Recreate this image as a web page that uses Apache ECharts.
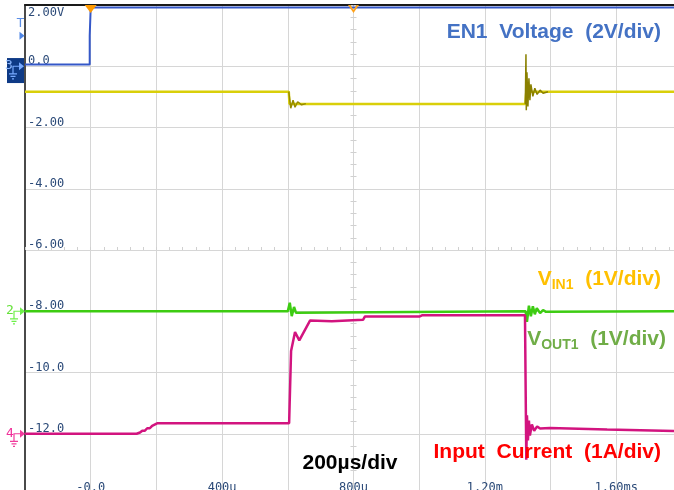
<!DOCTYPE html>
<html><head><meta charset="utf-8">
<script src="https://cdn.jsdelivr.net/npm/echarts@6/dist/echarts.min.js"></script>
<style>html,body{margin:0;padding:0;background:#fff;overflow:hidden}#c{width:674px;height:490px}</style>
</head><body><div id="c"></div>
<script>
// ---- tick labels ----
const xTickValues = [0, 400, 800, 1200, 1600];
const xTickLabels = ['-0.0', '400u', '800u', '1.20m', '1.60ms'];
const yTickValues = [2, 0, -2, -4, -6, -8, -10, -12];
const yTickLabels = ['2.00V', '0.0', '-2.00', '-4.00', '-6.00', '-8.00', '-10.0', '-12.0'];

// ---- channel reference levels (div units of left scale) ----
const en1Level = 0;
const vout1Level = -8;
const iinLevel = -12;
const triggerLevel = 1.0;
const triggerTime = 0;
const centerTime = 800;

// ---- EN1 voltage (time in µs, value in screen volts) ----
const en1T = [-200, -3, -3, 0, 0, 1800];
const en1V = [0.06, 0.06, 1.0, 1.0, 1.92, 1.92];

// ---- VIN1 ----
const vinT = [-200, 603, 605, 1323, 1326, 1800];
const vinV = [-0.83, -0.83, -1.23, -1.23, -0.83, -0.83];
const vinDropRingT = [603, 609, 616, 622, 630, 642, 655];
const vinDropRingV = [-0.83, -1.37, -1.11, -1.34, -1.16, -1.26, -1.22];
const vinSpikeT = [1323, 1325, 1326, 1328, 1331, 1334, 1337, 1340, 1346, 1352, 1359, 1368, 1377, 1392];
const vinSpikeV = [-1.23, 0.39, -1.44, -0.2, -1.31, -0.39, -1.11, -0.59, -0.98, -0.72, -0.92, -0.78, -0.88, -0.83];

// ---- VOUT1 ----
const voutT = [-200, 600, 606, 612, 619, 625, 631, 1324, 1328, 1334, 1340, 1346, 1352, 1358, 1368, 1377, 1386, 1800];
const voutV = [-8.0, -8.0, -7.72, -8.16, -7.86, -8.05, -8.0, -8.0, -8.35, -7.82, -8.16, -7.84, -8.1, -7.9, -8.06, -7.96, -8.02, -8.0];

// ---- Input current ----
const iinT = [-200, 140, 145, 150, 157, 165, 172, 180, 187, 193, 202, 604, 610, 622, 635, 668, 734, 740, 829, 835, 1002, 1010, 1322, 1326, 1328, 1331, 1334, 1337, 1343, 1350, 1359, 1368, 1398, 1400, 1572, 1575, 1800];
const iinV = [-12.0, -12.0, -11.96, -11.96, -11.9, -11.9, -11.82, -11.82, -11.74, -11.7, -11.66, -11.66, -9.3, -8.68, -8.95, -8.3, -8.33, -8.28, -8.28, -8.17, -8.17, -8.13, -8.13, -12.85, -11.4, -12.22, -11.57, -12.06, -11.7, -11.9, -11.76, -11.83, -11.81, -11.86, -11.86, -11.92, -11.92];

const pairs = (t, v) => t.map((x, i) => [x, v[i]]);

const iconPath = 'path://M12,1 L17,5 L12,9 Z M6,4.4 L12,4.4 L12,5.6 L6,5.6 Z M5.4,4.4 L6.6,4.4 L6.6,12 L5.4,12 Z M2,12 L10,12 L10,13.2 L2,13.2 Z M3.5,14.5 L8.5,14.5 L8.5,15.7 L3.5,15.7 Z M5,17 L7,17 L7,18.2 L5,18.2 Z';
const chDigit = (txt, color) => ({show: true, formatter: txt, position: [-4, -3], color: color, fontSize: 13, fontFamily: 'DejaVu Sans Mono', align: 'left', verticalAlign: 'top'});

const chart = echarts.init(document.getElementById('c'), null, {renderer: 'canvas'});
const gridColor = '#d6d6d6';
const tickColor = '#d0d0d0';
const monoFont = 'DejaVu Sans Mono';

const option = {
  animation: false,
  backgroundColor: '#ffffff',
  grid: {left: 25, top: 5, width: 657, height: 490, containLabel: false, outerBoundsMode: 'none'},
  xAxis: [
    {type: 'value', min: -200, max: 1800, interval: 200, position: 'bottom',
     axisLine: {show: false, onZero: false}, axisTick: {show: false},
     splitLine: {show: true, lineStyle: {color: gridColor, width: 1}},
     axisLabel: {inside: true, margin: 1, color: '#2b4a78', fontFamily: monoFont, fontSize: 12,
       showMinLabel: true, showMaxLabel: true, hideOverlap: false,
       formatter: v => { const i = xTickValues.indexOf(Math.round(v)); return i >= 0 ? xTickLabels[i] : ''; }}},
    {type: 'value', min: -200, max: 1800, interval: 200, position: 'top',
     axisLine: {show: true, onZero: false, lineStyle: {color: '#1a1a1a', width: 2}}, axisTick: {show: false},
     axisLabel: {show: false}, splitLine: {show: false}},
    {type: 'value', min: -200, max: 1800, interval: 40, position: 'top', offset: -245,
     axisLine: {show: false, onZero: false}, axisTick: {show: true, inside: false, length: 3, lineStyle: {color: tickColor}},
     axisLabel: {show: false}, splitLine: {show: false}},
    {type: 'value', min: -200, max: 1800, interval: 40, position: 'bottom', offset: -245,
     axisLine: {show: false, onZero: false}, axisTick: {show: true, inside: true, length: 3, lineStyle: {color: tickColor}},
     axisLabel: {show: false}, splitLine: {show: false}}
  ],
  yAxis: [
    {type: 'value', min: -14, max: 2, interval: 2, position: 'left',
     axisLine: {show: true, onZero: false, lineStyle: {color: '#4a4a4a', width: 2}}, axisTick: {show: false},
     splitLine: {show: true, lineStyle: {color: gridColor, width: 1}},
     axisLabel: {inside: true, margin: 3, color: '#2b4a78', fontFamily: monoFont, fontSize: 12,
       showMinLabel: true, showMaxLabel: true, hideOverlap: false,
       formatter: v => { const i = yTickValues.indexOf(Math.round(v)); if (i < 0) return ''; return (v === 2 ? '{t|' : '{b|') + yTickLabels[i] + '}'; },
       rich: {t: {padding: [16, 0, 0, 0], color: '#2b4a78', fontFamily: monoFont, fontSize: 12},
              b: {padding: [0, 0, 10, 0], color: '#2b4a78', fontFamily: monoFont, fontSize: 12}}}},
    {type: 'value', min: -14, max: 2, interval: 0.4, position: 'right', offset: -328.5,
     axisLine: {show: false, onZero: false}, axisTick: {show: true, inside: false, length: 3, lineStyle: {color: tickColor}},
     axisLabel: {show: false}, splitLine: {show: false}},
    {type: 'value', min: -14, max: 2, interval: 0.4, position: 'right', offset: -328.5,
     axisLine: {show: false, onZero: false}, axisTick: {show: true, inside: true, length: 3, lineStyle: {color: tickColor}},
     axisLabel: {show: false}, splitLine: {show: false}}
  ],
  series: [
    {name: 'EN1', type: 'line', data: pairs(en1T, en1V), showSymbol: false, silent: true,
     lineStyle: {color: '#3558c8', width: 2}, itemStyle: {color: '#3558c8'},
     markPoint: {silent: true, data: [
       {coord: [triggerTime, 2], symbol: 'path://M0,0 L12,0 L6,8 Z', symbolSize: [12, 8], symbolOffset: [0, 4], itemStyle: {color: '#ff9a00'}, label: {show: false}},
       {coord: [centerTime, 2], symbol: 'path://M0,0 L2.5,0 L5.5,5 L8.5,0 L11,0 L5.5,8 Z', symbolSize: [11, 8], symbolOffset: [0, 4], itemStyle: {color: '#ffa21a'}, label: {show: false}},
       {coord: [-200, triggerLevel], symbol: 'path://M0,0 L5,4 L0,8 Z', symbolSize: [5, 8], symbolOffset: [-3, 0], itemStyle: {color: '#4f86e6'},
        label: {show: true, formatter: 'T', position: [-3, -15], color: '#5b8ee6', fontSize: 13, fontFamily: monoFont, align: 'left', verticalAlign: 'top'}},
       {coord: [-200, en1Level], symbol: 'rect', symbolSize: [17, 25], symbolOffset: [-9.5, 4.3], itemStyle: {color: '#0e3a86'}, label: {show: false}},
       {coord: [-200, en1Level], symbol: iconPath, symbolSize: [15, 17.2], symbolOffset: [-8.5, 4.6], itemStyle: {color: '#78aaff'}, label: chDigit('3', '#8cb8ff')}
     ]}},
    {name: 'VOUT1', type: 'line', data: pairs(voutT, voutV), showSymbol: false, silent: true,
     lineStyle: {color: '#3dcc12', width: 2.5}, itemStyle: {color: '#3dcc12'},
     markPoint: {silent: true, data: [
       {coord: [-200, vout1Level], symbol: iconPath, symbolSize: [15, 17.2], symbolOffset: [-7.5, 4.6], itemStyle: {color: '#6ef04a'}, label: chDigit('2', '#66e23a')}
     ]}},
    {name: 'VIN1', type: 'line', data: pairs(vinT, vinV), showSymbol: false, silent: true,
     lineStyle: {color: '#d9cf0a', width: 2.5}, itemStyle: {color: '#d9cf0a'}},
    {name: 'VIN1 ring a', type: 'line', data: pairs(vinDropRingT, vinDropRingV), showSymbol: false, silent: true,
     lineStyle: {color: '#968b00', width: 1.5}, itemStyle: {color: '#968b00'}},
    {name: 'VIN1 ring b', type: 'line', data: pairs(vinSpikeT, vinSpikeV), showSymbol: false, silent: true,
     lineStyle: {color: '#8a8000', width: 1.5}, itemStyle: {color: '#8a8000'}},
    {name: 'Input Current', type: 'line', data: pairs(iinT, iinV), showSymbol: false, silent: true,
     lineStyle: {color: '#d2147f', width: 2.5}, itemStyle: {color: '#d2147f'},
     markPoint: {silent: true, data: [
       {coord: [-200, iinLevel], symbol: iconPath, symbolSize: [15, 17.2], symbolOffset: [-7.5, 4.6], itemStyle: {color: '#f03c9c'}, label: chDigit('4', '#f0309a')}
     ]}}
  ],
  graphic: [
    {type: 'text', x: 661, y: 32, z: 100, style: {text: 'EN1  Voltage  (2V/div)', align: 'right', verticalAlign: 'middle', fill: '#4472c4', font: 'bold 21px "Liberation Sans", Arial, sans-serif'}},
    {type: 'text', x: 661, y: 279, z: 100, style: {text: '{m|V}{s|IN1}{m|  (1V/div)}', align: 'right', verticalAlign: 'middle',
      rich: {m: {fill: '#ffc000', font: 'bold 21px "Liberation Sans", Arial, sans-serif', lineHeight: 26, verticalAlign: 'middle'},
             s: {fill: '#ffc000', font: 'bold 14px "Liberation Sans", Arial, sans-serif', lineHeight: 14, verticalAlign: 'bottom'}}}},
    {type: 'text', x: 666, y: 339, z: 100, style: {text: '{m|V}{s|OUT1}{m|  (1V/div)}', align: 'right', verticalAlign: 'middle',
      rich: {m: {fill: '#70ad47', font: 'bold 21px "Liberation Sans", Arial, sans-serif', lineHeight: 26, verticalAlign: 'middle'},
             s: {fill: '#70ad47', font: 'bold 14px "Liberation Sans", Arial, sans-serif', lineHeight: 14, verticalAlign: 'bottom'}}}},
    {type: 'text', x: 661, y: 452, z: 100, style: {text: 'Input  Current  (1A/div)', align: 'right', verticalAlign: 'middle', fill: '#ff0000', font: 'bold 21px "Liberation Sans", Arial, sans-serif'}},
    {type: 'text', x: 350, y: 463, z: 100, style: {text: '200µs/div', align: 'center', verticalAlign: 'middle', fill: '#000000', font: 'bold 21px "Liberation Sans", Arial, sans-serif'}}
  ]
};
chart.setOption(option);
</script>
</body></html>
